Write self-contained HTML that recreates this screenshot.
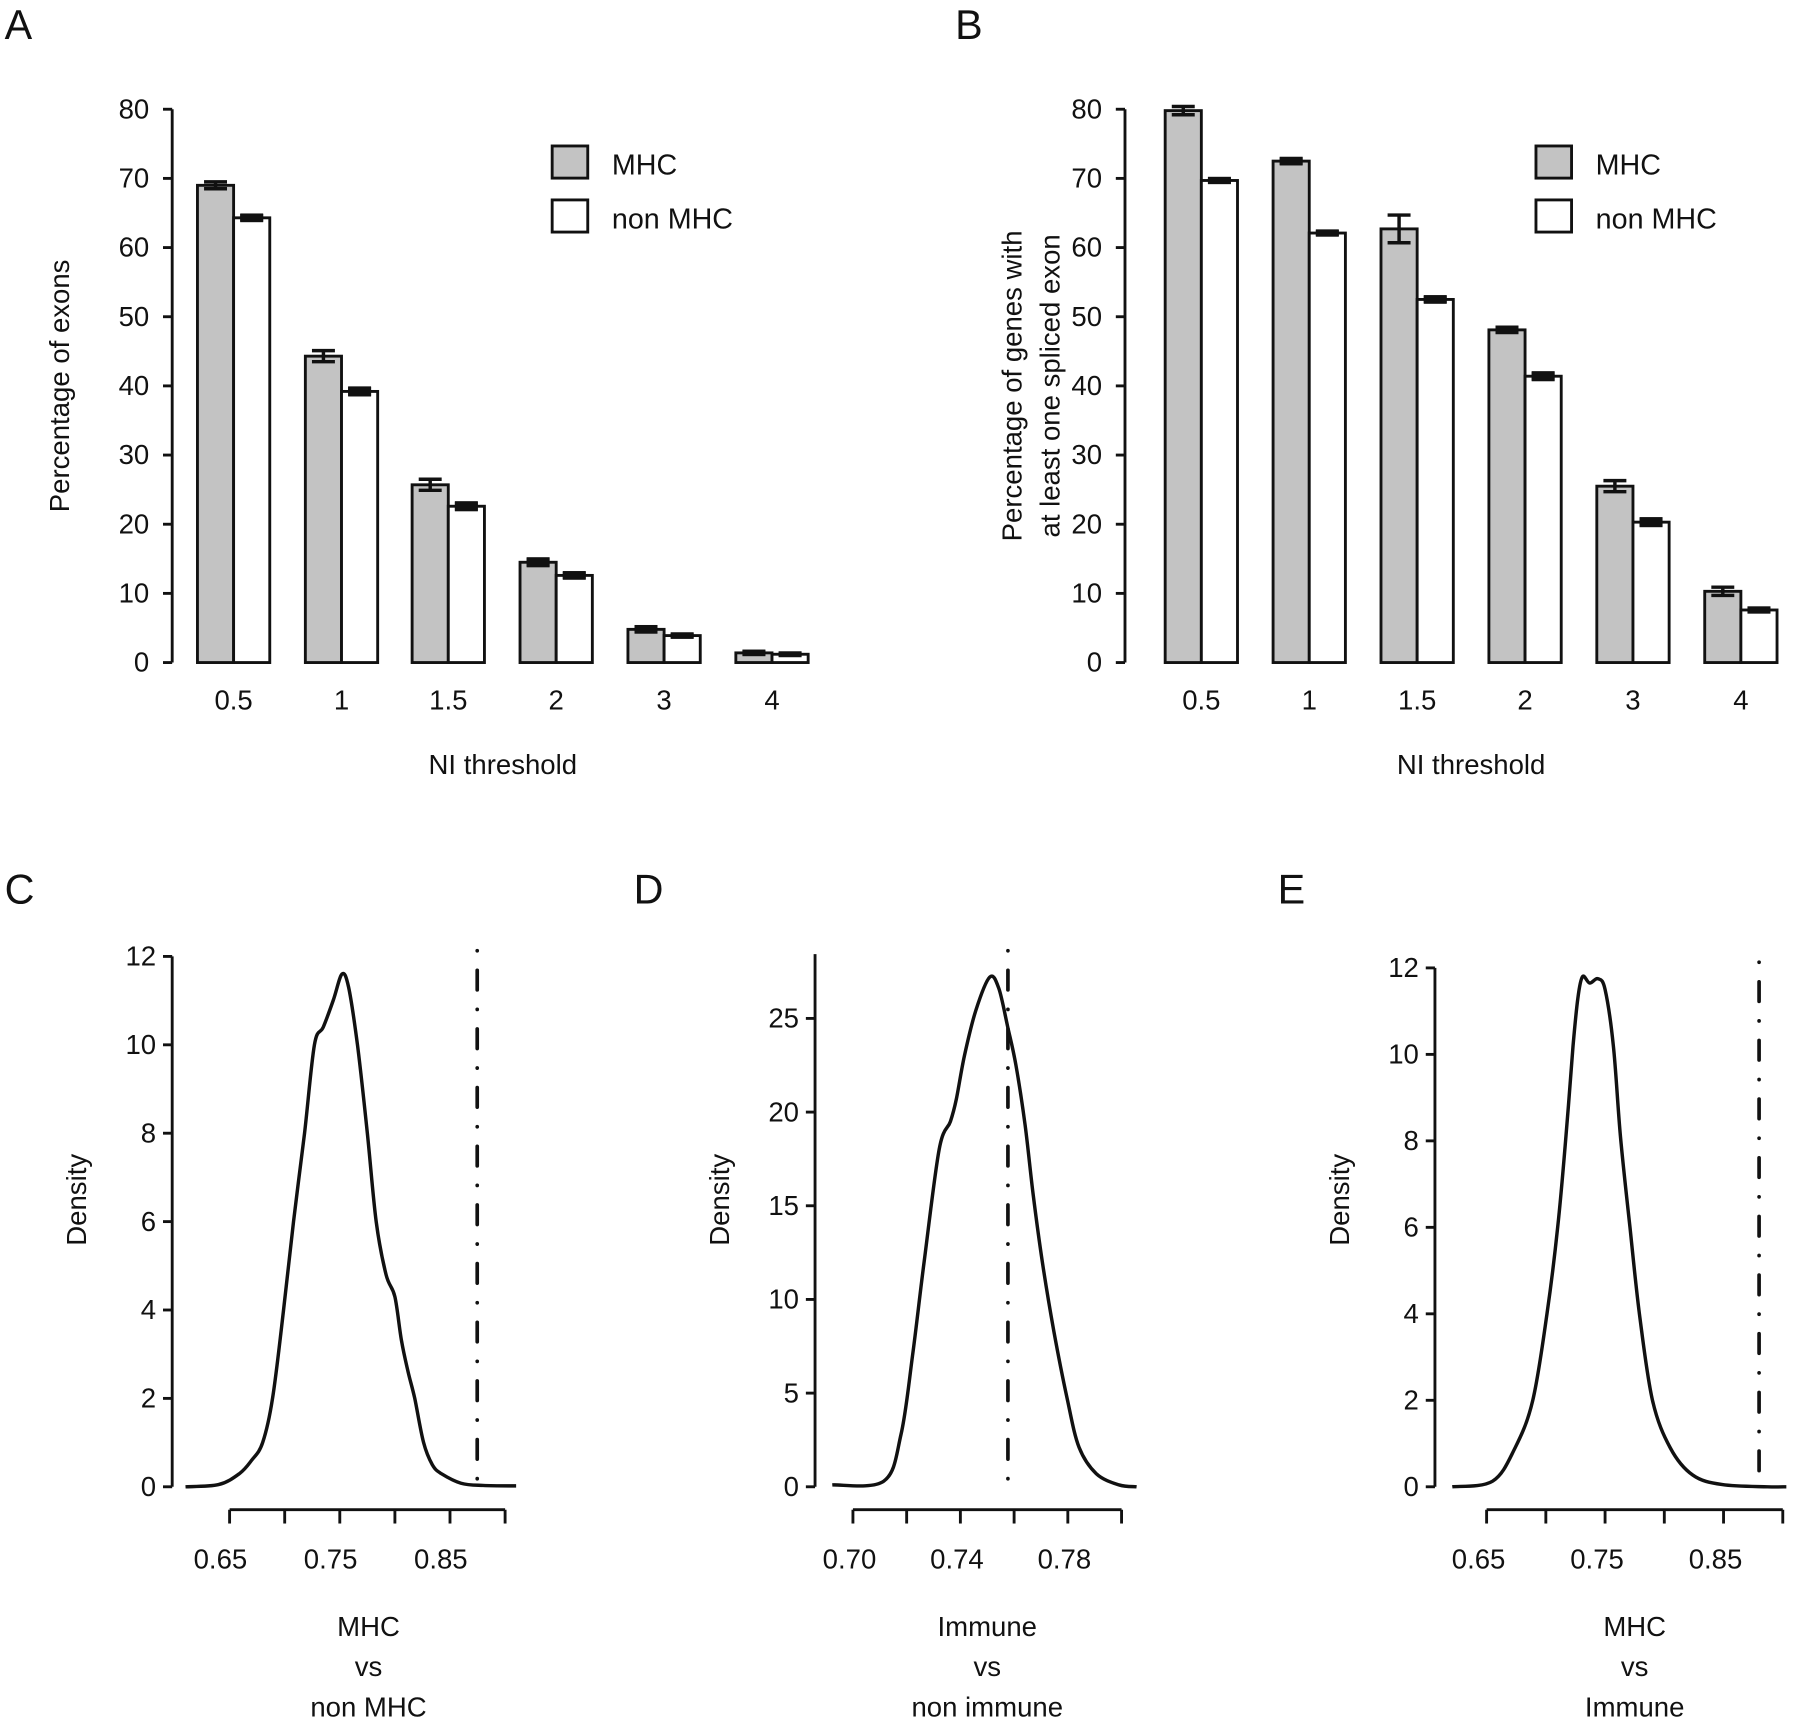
<!DOCTYPE html>
<html><head><meta charset="utf-8"><style>
html,body{margin:0;padding:0;background:#fff}
svg{display:block}
text{font-family:"Liberation Sans",sans-serif;fill:#111}
</style></head><body>
<svg id="fig" width="1800" height="1720" viewBox="0 0 1568 1498" xmlns="http://www.w3.org/2000/svg"></svg>
<script>
// ---- Data ----
const barCats = ["0.5","1","1.5","2","3","4"];
const aMHC = [69, 44.3, 25.7, 14.5, 4.8, 1.4];
const aNon = [64.3, 39.2, 22.6, 12.6, 3.9, 1.2];
const aMHCerr = [0.5, 0.8, 0.8, 0.4, 0.3, 0.15];
const aNonErr = [0.3, 0.4, 0.4, 0.3, 0.15, 0.1];
const bMHC = [79.8, 72.5, 62.7, 48.1, 25.5, 10.3];
const bNon = [69.7, 62.1, 52.5, 41.4, 20.3, 7.6];
const bMHCerr = [0.6, 0.3, 2.0, 0.3, 0.8, 0.6];
const bNonErr = [0.2, 0.2, 0.3, 0.4, 0.4, 0.2];
const barTicks = [0,10,20,30,40,50,60,70,80];

const cX = [0.61,0.64,0.659,0.670,0.680,0.689,0.699,0.708,0.718,0.727,0.735,0.744,0.752,0.758,0.766,0.775,0.783,0.792,0.800,0.806,0.812,0.818,0.826,0.834,0.842,0.86,0.88,0.91];
const cY = [0,0.05,0.3,0.6,1,2,4,6,8,10,10.4,11,11.6,11.3,10,8,6,4.8,4.3,3.3,2.6,2,1,0.5,0.3,0.08,0.03,0.02];
const cObs = 0.8747;
const cYTicks = [0,2,4,6,8,10,12];
const cXTicks = [0.65,0.70,0.75,0.80,0.85,0.90];
const cXLabels = ["0.65","","0.75","","0.85",""];

const dX = [0.6923,0.7115,0.7179,0.7222,0.7265,0.7321,0.7363,0.7385,0.7415,0.7457,0.7509,0.7543,0.7577,0.7607,0.7641,0.7671,0.7705,0.7748,0.7799,0.7842,0.7906,0.7991,0.8056];
const dY = [0.1,0.3,2.8,7,12,18,19.5,20.7,23,25.4,27.2,26.6,24.5,22.5,19.3,15.6,12,8.3,4.6,2.1,0.7,0.1,0];
const dObs = 0.7577;
const dYTicks = [0,5,10,15,20,25];
const dXTicks = [0.70,0.72,0.74,0.76,0.78,0.80];
const dXLabels = ["0.70","","0.74","","0.78",""];

const eX = [0.621,0.655,0.674,0.689,0.701,0.710,0.717,0.723,0.727,0.731,0.737,0.744,0.750,0.757,0.763,0.771,0.779,0.790,0.805,0.824,0.849,0.887,0.903];
const eY = [0,0.13,0.9,2,4,6,8.1,10.2,11.3,11.8,11.65,11.75,11.5,10.2,8.1,6,4,2,0.9,0.27,0.05,0,0];
const eObs = 0.880;
const eYTicks = [0,2,4,6,8,10,12];
const eXTicks = [0.65,0.70,0.75,0.80,0.85,0.90];
const eXLabels = ["0.65","","0.75","","0.85",""];

// ---- Helpers ----
const NS="http://www.w3.org/2000/svg";
const svg=document.getElementById('fig');
function mk(tag,attrs,parent){const e=document.createElementNS(NS,tag);for(const k in attrs)e.setAttribute(k,attrs[k]);(parent||svg).appendChild(e);return e;}
function txt(x,y,s,size,anchor,parent,extra){const t=mk('text',Object.assign({x:x,y:y,'font-size':size,'text-anchor':anchor||'middle'},extra||{}),parent);t.textContent=s;return t;}
function smooth(pts){
  let d='M'+pts[0][0].toFixed(1)+','+pts[0][1].toFixed(1);
  for(let i=0;i<pts.length-1;i++){
    const p0=pts[i-1]||pts[i],p1=pts[i],p2=pts[i+1],p3=pts[i+2]||p2;
    const c1=[p1[0]+(p2[0]-p0[0])/6,p1[1]+(p2[1]-p0[1])/6];
    const c2=[p2[0]-(p3[0]-p1[0])/6,p2[1]-(p3[1]-p1[1])/6];
    d+=`C${c1[0].toFixed(1)},${c1[1].toFixed(1)} ${c2[0].toFixed(1)},${c2[1].toFixed(1)} ${p2[0].toFixed(1)},${p2[1].toFixed(1)}`;
  }
  return d;
}

function barPanel(id,axX,groupStarts,mhc,non,mErr,nErr,yTitleLines,legX){
  const g=mk('g',{});
  
  
  const y0=577,y80=95;
  const ys=v=>y0-(v/80)*(y0-y80);
  const ax=mk('line',{x1:axX,y1:ys(0),x2:axX,y2:ys(80),stroke:'#111','stroke-width':2.5},g);
  
  
  barTicks.forEach(v=>{
    mk('line',{x1:axX-8,y1:ys(v),x2:axX,y2:ys(v),stroke:'#111','stroke-width':2.5},g);
    const t=txt(axX-20,ys(v)+8,String(v),24,'end',g);
    
    
  });
  const bw=31.5;
  barCats.forEach((c,i)=>{
    const x=groupStarts[i];
    const r1=mk('rect',{x:x,y:ys(mhc[i]),width:bw,height:ys(0)-ys(mhc[i]),fill:'#c3c3c3',stroke:'#111','stroke-width':2.5},g);
    
    
    const r2=mk('rect',{x:x+bw,y:ys(non[i]),width:bw,height:ys(0)-ys(non[i]),fill:'#fff',stroke:'#111','stroke-width':2.5},g);
    
    
    [[x+bw/2,mhc[i],mErr[i]],[x+1.5*bw,non[i],nErr[i]]].forEach(([cx,v,e])=>{
      const t=ys(v+e),b=ys(v-e);
      const eb=mk('path',{d:`M${cx-10},${t}H${cx+10}M${cx},${t}V${b}M${cx-10},${b}H${cx+10}`,stroke:'#111','stroke-width':3,fill:'none'},g);
      
      
      if(b-t<6){mk('rect',{x:cx-10,y:t-2,width:20,height:b-t+4,fill:'#111'},g);}
    });
    const lab=txt(x+bw,618,c,24,'middle',g);
    
    
  });
  const xt=txt((groupStarts[0]+groupStarts[5]+2*bw)/2,674,'NI threshold',24,'middle',g);
  
  
  yTitleLines.forEach(ln=>{
    const t=txt(ln.x,336,ln.s,24,'middle',g,{transform:`rotate(-90 ${ln.x} 336)`});
    
    
  });
  const l1=mk('rect',{x:legX,y:127,width:31,height:28,fill:'#c3c3c3',stroke:'#111','stroke-width':2.5},g);
  
  
  const lt1=txt(legX+52,152,'MHC',25,'start',g);
  
  
  const l2=mk('rect',{x:legX,y:174,width:31,height:28,fill:'#fff',stroke:'#111','stroke-width':2.5},g);
  
  
  const lt2=txt(legX+52,199,'non MHC',25,'start',g);
  
  
}

barPanel('panel-a',150,[172,266,359,453,547,641],aMHC,aNon,aMHCerr,aNonErr,[{x:60,s:'Percentage of exons'}],481);
barPanel('panel-b',980,[1015,1109,1203,1297,1391,1485],bMHC,bNon,bMHCerr,bNonErr,[{x:890,s:'Percentage of genes with'},{x:923,s:'at least one spliced exon'}],1338);

function densPanel(id,o){
  const g=mk('g',{});
  
  
  const ys=v=>o.y0-(v/o.yMaxTick)*(o.y0-o.yTop);
  const xs=v=>o.x0+(v-o.xMin)/(o.xStep)*o.xStepPx;
  const ax=mk('line',{x1:o.axX,y1:o.y0,x2:o.axX,y2:o.axTop,stroke:'#111','stroke-width':2.5},g);
  
  
  o.yTicks.forEach(v=>{
    mk('line',{x1:o.axX-8,y1:ys(v),x2:o.axX,y2:ys(v),stroke:'#111','stroke-width':2.5},g);
    const t=txt(o.axX-14,ys(v)+8,String(v),24,'end',g);
    
    
  });
  const xa=mk('line',{x1:xs(o.xTicks[0]),y1:1315,x2:xs(o.xTicks[o.xTicks.length-1]),y2:1315,stroke:'#111','stroke-width':2.5},g);
  
  
  o.xTicks.forEach((v,i)=>{
    mk('line',{x1:xs(v),y1:1315,x2:xs(v),y2:1327,stroke:'#111','stroke-width':2.5},g);
    if(o.xLabels[i]){const t=txt(xs(v)+o.labOff,1366,o.xLabels[i],24,'middle',g);
      
      }
  });
  const pts=o.xs.map((v,i)=>[xs(v),ys(o.ys[i])]);
  const p=mk('path',{d:smooth(pts),fill:'none',stroke:'#111','stroke-width':3,'stroke-linejoin':'round'},g);
  
  
  const ob=mk('line',{x1:xs(o.obs),y1:o.dashTop,x2:xs(o.obs),y2:o.y0,stroke:'#111','stroke-width':3.2,'stroke-dasharray':'0.1 17 17 17','stroke-linecap':'round'},g);
  
  
  const yt=txt(o.axX-75,o.yTitleY,'Density',24,'middle',g,{transform:`rotate(-90 ${o.axX-75} ${o.yTitleY})`});
  
  
  o.title.forEach((s,k)=>{const t=txt(o.titleX,1425+k*35,s,24,'middle',g);
    
    });
}
densPanel('panel-c',{axX:150,y0:1295,yTop:833,yMaxTick:12,axTop:833,x0:200,xMin:0.65,xStep:0.05,xStepPx:48,
  yTicks:cYTicks,xTicks:cXTicks,xLabels:cXLabels,labOff:-8,xs:cX,ys:cY,obs:cObs,dashTop:828,yTitleY:1045,title:['MHC','vs','non MHC'],titleX:321});
densPanel('panel-d',{axX:710,y0:1295,yTop:887,yMaxTick:25,axTop:831,x0:743,xMin:0.70,xStep:0.02,xStepPx:46.8,
  yTicks:dYTicks,xTicks:dXTicks,xLabels:dXLabels,labOff:-3,xs:dX,ys:dY,obs:dObs,dashTop:828,yTitleY:1045,title:['Immune','vs','non immune'],titleX:860});
densPanel('panel-e',{axX:1250,y0:1295,yTop:843,yMaxTick:12,axTop:843,x0:1295,xMin:0.65,xStep:0.05,xStepPx:51.6,
  yTicks:eYTicks,xTicks:eXTicks,xLabels:eXLabels,labOff:-7,xs:eX,ys:eY,obs:eObs,dashTop:838,yTitleY:1045,title:['MHC','vs','Immune'],titleX:1424});

[['A',4,34],['B',832,34],['C',4,787],['D',552,787],['E',1113,787]].forEach(([s,x,y])=>{
  const t=txt(x,y,s,36,'start');
  
  
});
</script>
</body></html>
